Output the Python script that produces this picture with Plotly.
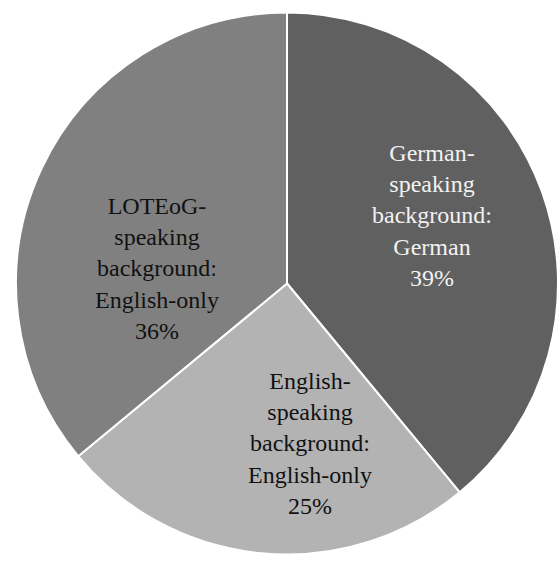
import plotly.graph_objects as go

# Share of respondents by language background / language used
categories = [
    "German-<br>speaking<br>background:<br>German",
    "English-<br>speaking<br>background:<br>English-only",
    "LOTEoG-<br>speaking<br>background:<br>English-only",
]
values = [39, 25, 36]
slice_colors = ["#606060", "#b3b3b3", "#808080"]
text_colors = ["#f2f2f2", "#111111", "#111111"]
# label anchor points (paper fractions) inside each slice
label_x = [0.774, 0.556, 0.281]
label_y = [0.616, 0.210, 0.523]

SERIF = "Liberation Serif"

fig = go.Figure(
    go.Pie(
        labels=categories,
        values=values,
        sort=False,
        direction="clockwise",
        rotation=0,
        marker=dict(colors=slice_colors, line=dict(color="#ffffff", width=2)),
        textinfo="none",
        hoverinfo="label+percent",
        showlegend=False,
        domain=dict(x=[16 / 558, 1], y=[5 / 562, 1 - 10 / 562]),
    )
)

total = sum(values)
for cat, v, c, x, y in zip(categories, values, text_colors, label_x, label_y):
    fig.add_annotation(
        x=x, y=y, xref="paper", yref="paper",
        text=f"{cat}<br>{round(100 * v / total)}%",
        showarrow=False,
        align="center",
        xanchor="center", yanchor="middle",
        font=dict(family=SERIF, size=24, color=c),
    )

fig.update_layout(
    width=558,
    height=562,
    margin=dict(l=0, r=0, t=0, b=0),
    paper_bgcolor="#ffffff",
    plot_bgcolor="#ffffff",
)

fig.write_html("out.html")
